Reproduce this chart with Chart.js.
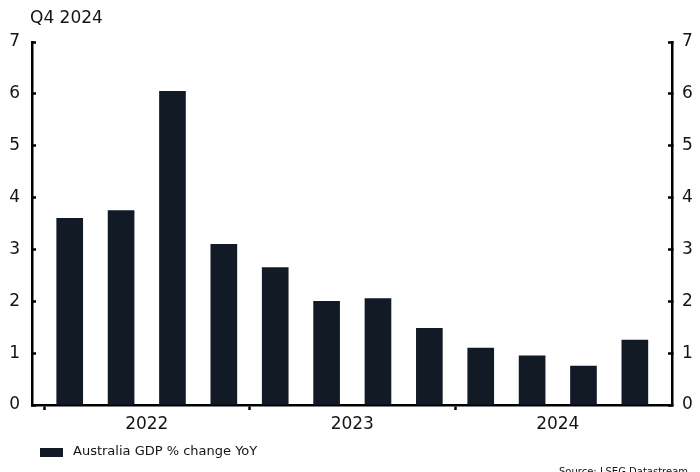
<!DOCTYPE html>
<html>
<head>
<meta charset="utf-8">
<script src="https://cdn.jsdelivr.net/npm/chart.js@4/dist/chart.umd.min.js"></script>
<style>
  html, body { margin: 0; padding: 0; background: #fff; }
  #wrap { position: relative; width: 700px; height: 472px; }
</style>
</head>
<body>
<div id="wrap"><canvas id="chart"></canvas></div>
<script>
// quarterly data, Q1 2022 .. Q4 2024
var quarters = ['Q1 2022', 'Q2 2022', 'Q3 2022', 'Q4 2022',
                'Q1 2023', 'Q2 2023', 'Q3 2023', 'Q4 2023',
                'Q1 2024', 'Q2 2024', 'Q3 2024', 'Q4 2024'];
var gdpYoY = [3.6, 3.75, 6.05, 3.1, 2.65, 2.0, 2.05, 1.48, 1.1, 0.95, 0.75, 1.25];
var years = ['2022', '2023', '2024'];
var yTicks = [0, 1, 2, 3, 4, 5, 6, 7];

var seriesLabel = 'Australia GDP % change YoY';
var subtitle = 'Q4 2024';
var sourceText = 'Source: LSEG Datastream';

var ink = '#000';
var textColor = '#141414';
var barColor = '#121a26';
var fontFamily = "'DejaVu Sans', 'Open Sans', sans-serif";

// x positions: quarter index; year boundaries sit at -0.5, 3.5, 7.5
var points = gdpYoY.map(function(v, i) { return { x: i, y: v }; });

function yearTickValues() {
  var out = [];
  for (var i = 0; i < years.length; i++) {
    out.push(i * 4 - 0.5);
    out.push(i * 4 + 1.5);
  }
  return out;
}

function isBoundary(v) {
  return Math.abs(((v + 0.5) % 4)) < 1e-6;
}

var textPlugin = {
  id: 'textPlugin',
  afterDraw: function(chart) {
    var ctx = chart.ctx;
    var ds = chart.data.datasets[0];
    ctx.save();
    ctx.fillStyle = textColor;
    ctx.textBaseline = 'middle';
    ctx.textAlign = 'left';
    ctx.font = '17px ' + fontFamily;
    ctx.fillText(subtitle, 30, 19);

    // legend
    ctx.fillStyle = ds.backgroundColor;
    ctx.fillRect(40, 448, 23, 9);
    ctx.fillStyle = textColor;
    ctx.font = '13px ' + fontFamily;
    ctx.fillText(ds.label, 73, 452);

    // source
    ctx.font = '10px ' + fontFamily;
    ctx.textBaseline = 'alphabetic';
    ctx.textAlign = 'right';
    ctx.fillText(sourceText, 688, 475);
    ctx.restore();
  }
};

var yAxisCommon = {
  type: 'linear',
  min: 0,
  max: 7,
  afterBuildTicks: function(scale) {
    scale.ticks = yTicks.map(function(v) { return { value: v }; });
  },
  grid: {
    drawOnChartArea: false,
    drawTicks: true,
    tickLength: -4,
    tickWidth: 2.5,
    tickColor: ink
  },
  border: { display: true, color: ink, width: 2.5 },
  ticks: {
    color: textColor,
    font: { family: fontFamily, size: 17 }
  }
};

var chart = new Chart(document.getElementById('chart').getContext('2d'), {
  type: 'bar',
  data: {
    labels: quarters,
    datasets: [
      {
        label: seriesLabel,
        data: points,
        backgroundColor: barColor,
        borderWidth: 0,
        barThickness: 26,
        yAxisID: 'y'
      }
    ]
  },
  options: {
    responsive: true,
    maintainAspectRatio: false,
    animation: false,
    layout: {
      padding: { top: 42, right: 0, bottom: 37, left: 0 }
    },
    plugins: {
      legend: { display: false },
      tooltip: { enabled: false }
    },
    scales: {
      x: {
        type: 'linear',
        offset: false,
        min: -0.734,
        max: 11.723,
        afterBuildTicks: function(scale) {
          scale.ticks = yearTickValues().map(function(v) { return { value: v }; });
        },
        afterFit: function(scale) { scale.height = 30; },
        grid: {
          offset: false,
          drawOnChartArea: false,
          drawTicks: true,
          tickLength: 5,
          tickWidth: 2.5,
          tickColor: function(c) {
            return c.tick && isBoundary(c.tick.value) ? ink : 'rgba(0,0,0,0)';
          }
        },
        border: { display: true, color: ink, width: 2.5 },
        ticks: {
          autoSkip: false,
          maxRotation: 0,
          padding: 4,
          color: textColor,
          font: { family: fontFamily, size: 17 },
          callback: function(v) {
            if (isBoundary(v)) return '';
            return years[Math.round((v - 1.5) / 4)];
          }
        }
      },
      y: Object.assign({}, yAxisCommon, {
        position: 'left',
        afterFit: function(scale) { scale.width = 32; },
        ticks: Object.assign({}, yAxisCommon.ticks, { padding: 16 })
      }),
      y2: Object.assign({}, yAxisCommon, {
        position: 'right',
        afterFit: function(scale) { scale.width = 28; },
        ticks: Object.assign({}, yAxisCommon.ticks, { padding: 14 })
      })
    }
  },
  plugins: [textPlugin]
});
</script>
</body>
</html>
